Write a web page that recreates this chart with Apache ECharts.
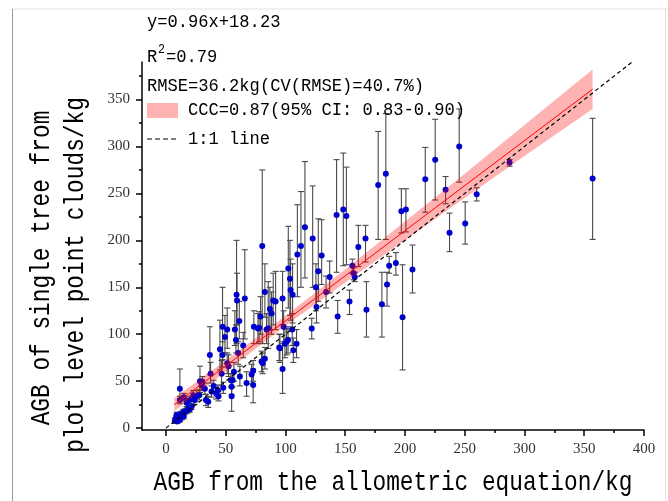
<!DOCTYPE html>
<html><head><meta charset="utf-8">
<script src="https://cdn.jsdelivr.net/npm/echarts@6/dist/echarts.min.js"></script>
<style>html,body{margin:0;padding:0;background:#fff}#c{width:668px;height:501px}</style>
</head><body><div id="c"></div>
<script>
// ---- data ----
const ptX = [7.5,8.5,9,9.5,10.5,11,12,12.5,13.5,14.5,15,16.5,18,19,20,21.5,
  11.7,11.7,15,17.3,20,22.9,24,25.7,27.9,28.5,29.8,30.5,32.6,33.5,35.4,36.8,37.4,38.2,40,42,43.5,44,
  45.2,46.6,47.4,48,47.4,49.4,51.3,51.3,52.4,54.4,55,55,55.8,56.9,57.7,58.6,59.1,59.5,60.5,61.4,61.9,
  64.7,66,67.5,71.7,73,73,73.6,77,78,79.2,80,81,80.6,82.8,82.8,84.2,85.6,87,88.4,89.8,91.8,94.8,95.4,
  97.6,97.6,98.5,99.6,101,102.2,102.4,103.8,104.3,105.7,106,106.6,109.3,110,113,116.3,122,122.8,125.5,
  126,127.5,130.3,134,137,142.8,143.7,148.4,151,153.6,156,157,158,161,167,167.8,177.6,180.7,184,185,
  186.8,192.4,197,198,200.8,206.3,217,225.3,234,237.3,245.4,250.4,260,287.5,357];
const ptY = [8,11,14,7,13,9,10,15,12,17,13,18,19,21,20,23,
  42,30,33,27,30,35,30,34,35,50,46,49,42,30,28,78,58,39,45,37,40,34,
  84,58,78,43,108,97,105,69,66,51,34,44,51,60,105,94,142,136,80,114,55,
  88,138,48,57,61,46,108,106,107,119,71,69,194,145,74,105,106,127,122,136,135,86,85,
  138,63,108,90,92,94,170,159,147,105,142,83,90,185,194,214,106,202,150,
  129,167,184,145,161,227,119,233,226,135,173,165,161,193,202,126,259,132,271,153,
  173,176,231,118,233,169,265,286,254,208,300,218,249,283,266];
const ptLow = [5,8,11,5,10,6,7,12,9,14,10,15,16,18,17,20,
  30,26,29,23,26,30,25,28,30,38,40,43,36,24,22,57,48,33,39,31,34,29,
  62,45,65,37,73,80,85,58,55,44,18,36,44,50,88,80,90,110,68,95,45,
  75,95,34,47,50,27,90,90,92,100,60,58,90,118,63,90,85,105,100,110,105,72,70,
  110,37,92,75,78,80,128,120,115,88,112,70,75,140,150,160,95,150,125,
  112,135,153,128,144,166,101,173,174,121,165,158,156,172,177,97,201,97,201,130,
  165,163,208,62,209,144,230,243,239,188,262,196,242,279,201];
const ptHigh = [11,14,17,10,16,12,13,18,15,20,16,21,22,24,23,26,
  63,34,37,31,34,40,36,40,41,66,52,55,48,36,34,108,70,45,51,43,46,39,
  115,72,92,49,150,120,128,80,78,58,53,52,58,70,125,110,200,165,92,135,66,
  102,190,60,68,72,63,125,122,124,140,82,80,275,175,86,122,156,150,145,165,167,100,100,
  167,90,125,106,106,108,215,200,180,122,175,96,105,238,252,284,117,258,175,
  148,223,222,162,178,286,136,293,278,147,180,172,166,216,216,156,316,166,335,166,
  183,187,255,174,255,195,299,329,268,229,340,241,256,286,330];

// regression line end points and confidence band
const fitX = [7, 357];
const fitY = [24.9, 361];
const bandX = [7, 50, 100, 150, 200, 250, 300, 357];
const bandLow = [18, 60, 108.7, 155, 200, 245, 290, 340];
const bandHigh = [32, 72, 119.7, 169, 220, 271, 323, 382];
const refX = [0, 390];
const refY = [0, 390];

const xMajor = [0,50,100,150,200,250,300,350,400];
const xMinor = [25,75,125,175,225,275,325,375];
const yMajor = [0,50,100,150,200,250,300,350];
const yMinor = [25,75,125,175,225,275,325,375];

const txtEq = 'y=0.96x+18.23';
const txtR2 = ['R', '2', '=0.79'];
const txtRmse = 'RMSE=36.2kg(CV(RMSE)=40.7%)';
const txtCcc = 'CCC=0.87(95% CI: 0.83-0.90)';
const txtRef = '1:1 line';
const xTitle = 'AGB from the allometric equation/kg';
const yTitle = ['AGB of single tree from', 'plot level point clouds/kg'];

// ---- chart ----
const chart = echarts.init(document.getElementById('c'), null, {renderer: 'canvas'});
const MONO = '"Liberation Mono", monospace';
const SERIF = '"Liberation Serif", "Times New Roman", serif';
const XMIN = -20, XMAX = 400, YMIN = -2, YMAX = 390;

const errData = ptX.map((x, i) => [x, ptLow[i], ptHigh[i]]);
const ptData = ptX.map((x, i) => [x, ptY[i]]);

function renderErr(params, api) {
  const x = api.value(0), lo = api.value(1), hi = api.value(2);
  const a = api.coord([x, lo]), b = api.coord([x, hi]);
  const cw = 3;
  const st = {stroke: '#4a4a4a', lineWidth: 1.1};
  return {type: 'group', children: [
    {type: 'line', shape: {x1: a[0], y1: a[1], x2: b[0], y2: b[1]}, style: st},
    {type: 'line', shape: {x1: a[0]-cw, y1: a[1], x2: a[0]+cw, y2: a[1]}, style: st},
    {type: 'line', shape: {x1: b[0]-cw, y1: b[1], x2: b[0]+cw, y2: b[1]}, style: st}
  ]};
}
function renderBand(params, api) {
  const pts = [];
  for (let i = 0; i < bandX.length; i++) pts.push(api.coord([bandX[i], bandHigh[i]]));
  for (let i = bandX.length - 1; i >= 0; i--) pts.push(api.coord([bandX[i], bandLow[i]]));
  return {type: 'polygon', shape: {points: pts}, style: {fill: 'rgba(255,0,0,0.3)'}};
}

function txt(x, y, text, size, sx, extra) {
  return Object.assign({type: 'text', x: x, y: y, scaleX: sx, z: 100,
    style: {text: text, fontFamily: MONO, fontSize: size, fill: '#000',
      textAlign: 'left', textVerticalAlign: 'middle'}}, extra || {});
}
function bigTxt(x, y, text, rot) {
  return {type: 'text', x: x, y: y, scaleX: 0.8, rotation: rot, z: 100,
    style: {text: text, fontFamily: MONO, fontSize: 28.5, fill: '#000',
      textAlign: 'center', textVerticalAlign: 'middle'}};
}

chart.setOption({
  animation: false,
  backgroundColor: '#fff',
  grid: {left: 142, right: 24, top: 62, bottom: 71, containLabel: false},
  xAxis: [
    {type: 'value', min: XMIN, max: XMAX, position: 'bottom', offset: 0,
      axisLine: {show: true, onZero: false, lineStyle: {color: '#000', width: 1.5}},
      splitLine: {show: false},
      axisTick: {show: true, inside: false, length: 6, customValues: xMajor, lineStyle: {color: '#000', width: 1.5}},
      axisLabel: {show: true, customValues: xMajor, margin: 12, fontFamily: SERIF, fontSize: 15, color: '#333'}},
    {type: 'value', min: XMIN, max: XMAX, position: 'bottom', offset: 0,
      axisLine: {show: false, onZero: false},
      axisTick: {show: true, length: 3, customValues: xMinor, lineStyle: {color: '#000', width: 1.5}},
      axisLabel: {show: false}, splitLine: {show: false}}
  ],
  yAxis: [
    {type: 'value', min: YMIN, max: YMAX, position: 'left', offset: 0,
      axisLine: {show: true, onZero: false, lineStyle: {color: '#000', width: 1.5}},
      splitLine: {show: false},
      axisTick: {show: true, inside: false, length: 6, customValues: yMajor, lineStyle: {color: '#000', width: 1.5}},
      axisLabel: {show: true, customValues: yMajor, margin: 12, fontFamily: SERIF, fontSize: 15, color: '#333'}},
    {type: 'value', min: YMIN, max: YMAX, position: 'left', offset: 0,
      axisLine: {show: false, onZero: false},
      axisTick: {show: true, length: 3, customValues: yMinor, lineStyle: {color: '#000', width: 1.5}},
      axisLabel: {show: false}, splitLine: {show: false}}
  ],
  series: [
    {type: 'custom', name: 'err', renderItem: renderErr, data: errData, encode: {x: 0, y: [1, 2]}, z: 1, clip: true},
    {type: 'scatter', name: 'pts', data: ptData, symbol: 'circle', symbolSize: 6,
      itemStyle: {color: '#0000CC', opacity: 1}, z: 2},
    {type: 'custom', name: 'band', renderItem: renderBand, data: [[bandX[0], bandLow[0]]], encode: {x: 0, y: 1}, z: 3, silent: true},
    {type: 'line', name: 'fit', data: fitX.map((x, i) => [x, fitY[i]]), symbol: 'none',
      lineStyle: {color: '#ff0000', width: 1}, z: 4},
    {type: 'line', name: '1:1', data: refX.map((x, i) => [x, refY[i]]), symbol: 'none',
      lineStyle: {color: '#000', width: 1.2, type: [4, 3]}, z: 5}
  ],
  graphic: [
    // figure frame
    {type: 'line', shape: {x1: 12, y1: 9, x2: 668, y2: 9}, style: {stroke: '#e2e2e2', lineWidth: 1}, z: 0},
    {type: 'line', shape: {x1: 12.5, y1: 9, x2: 12.5, y2: 501}, style: {stroke: '#999', lineWidth: 1}, z: 0},
    {type: 'line', shape: {x1: 665.5, y1: 9, x2: 665.5, y2: 501}, style: {stroke: '#e2e2e2', lineWidth: 1}, z: 0},
    // annotations
    txt(147, 22, txtEq, 19, 0.9),
    txt(147, 57, txtR2[0], 19, 0.9),
    txt(158, 50, txtR2[1], 13, 0.9),
    txt(166, 57, txtR2[2], 19, 0.9),
    txt(147, 86, txtRmse, 19, 0.9),
    {type: 'rect', shape: {x: 147, y: 103, width: 31, height: 15}, style: {fill: 'rgba(255,0,0,0.3)'}, z: 100},
    txt(188, 110, txtCcc, 19, 0.9),
    {type: 'line', shape: {x1: 147, y1: 139, x2: 178, y2: 139}, style: {stroke: '#000', lineWidth: 1.2, lineDash: [5, 3]}, z: 100},
    txt(188, 139, txtRef, 19, 0.9),
    // axis titles
    bigTxt(393, 482, xTitle, 0),
    bigTxt(41, 268, yTitle[0], Math.PI / 2),
    bigTxt(75, 275, yTitle[1], Math.PI / 2)
  ]
});
</script>
</body></html>
